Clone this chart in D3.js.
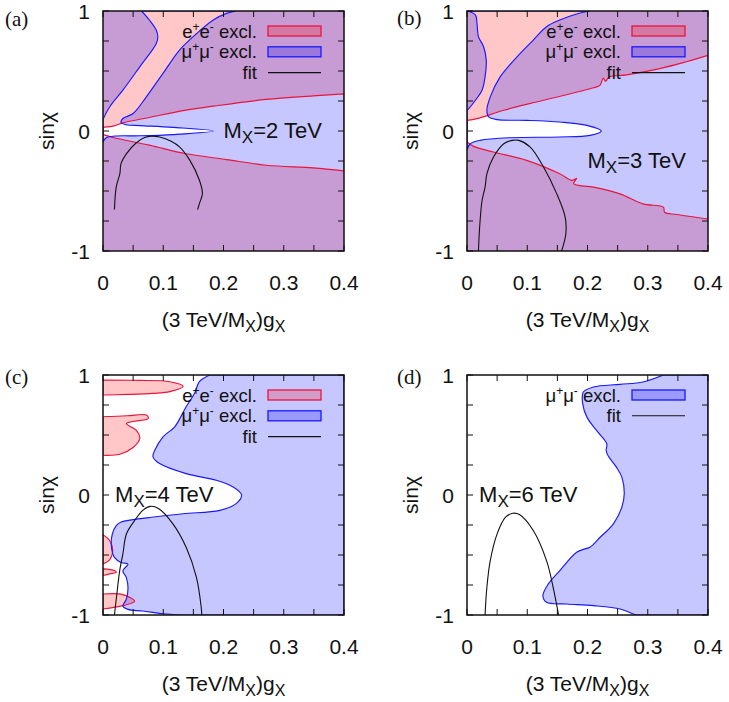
<!DOCTYPE html>
<html>
<head>
<meta charset="utf-8">
<script src="https://cdn.jsdelivr.net/npm/d3@7"></script>
<style>
  body { margin: 0; background: #fff; }
  text { font-family: "Liberation Sans", Arial, sans-serif; fill: #111; }
  .plabel { font-family: "Liberation Serif", "DejaVu Serif", serif; }
</style>
</head>
<body>
<svg width="729" height="702"></svg>
<script>
// axis setup
const xDomain = [0, 0.4];
const yDomain = [-1, 1];
const xTickLabels = [0, 0.1, 0.2, 0.3, 0.4];
const yTickLabels = [-1, 0, 1];
const xMinorStep = 0.05;
const yMinorStep = 0.25;

// (a) M_X = 2 TeV -- contour lines, [g, sin chi]
const aEeUpper = [[0, 0.03], [0.02, 0.045], [0.033, 0.068], [0.077, 0.113], [0.138, 0.174], [0.183, 0.207], [0.271, 0.263], [0.349, 0.293], [0.4, 0.31]];
const aEeLower = [[0, -0.03], [0.017, -0.054], [0.077, -0.118], [0.138, -0.19], [0.205, -0.238], [0.271, -0.285], [0.349, -0.307], [0.4, -0.332]];
const aMuLeft = [[0.064, 1], [0.077, 0.925], [0.0885, 0.84], [0.091, 0.786], [0.0885, 0.73], [0.061, 0.535], [0.033, 0.34], [0.011, 0.2], [0, 0.096]];
const aMuRight = [[0, -0.09], [0.006, -0.055], [0.02, -0.042], [0.061, -0.04], [0.116, -0.03], [0.183, 0], [0.116, 0.03], [0.061, 0.045], [0.039, 0.052], [0.03, 0.07], [0.033, 0.104], [0.05, 0.146], [0.072, 0.285], [0.0996, 0.48], [0.127, 0.674], [0.155, 0.81], [0.183, 0.925], [0.205, 0.98], [0.221, 1]];
const aFit = [[0.019, -0.655], [0.022, -0.466], [0.028, -0.355], [0.03, -0.27], [0.039, -0.188], [0.055, -0.1], [0.069, -0.055], [0.08, -0.043], [0.094, -0.05], [0.113, -0.085], [0.127, -0.132], [0.144, -0.243], [0.16, -0.41], [0.165, -0.52], [0.16, -0.605], [0.157, -0.655]];

// (b) M_X = 3 TeV
const bEeUpper = [[0, 0.089], [0.0166, 0.103], [0.061, 0.173], [0.127, 0.256], [0.21, 0.36], [0.221, 0.383], [0.226, 0.44], [0.23, 0.415], [0.236, 0.45], [0.265, 0.468], [0.32, 0.52], [0.364, 0.577], [0.4, 0.63]];
const bEeLower = [[0, -0.092], [0.011, -0.128], [0.044, -0.175], [0.099, -0.245], [0.154, -0.357], [0.174, -0.412], [0.182, -0.395], [0.177, -0.44], [0.21, -0.468], [0.254, -0.524], [0.292, -0.607], [0.326, -0.635], [0.328, -0.677], [0.348, -0.696], [0.4, -0.733]];
const bMuLeft = [[0.001, 1], [0.014, 0.967], [0.0166, 0.897], [0.019, 0.786], [0.0276, 0.702], [0.032, 0.59], [0.03, 0.451], [0.025, 0.34], [0.014, 0.256], [0.003, 0.187], [0, 0.173]];
const bMuRight = [[0, -0.156], [0.0055, -0.106], [0.022, -0.078], [0.072, -0.056], [0.154, -0.05], [0.204, -0.036], [0.223, 0], [0.199, 0.047], [0.154, 0.075], [0.099, 0.089], [0.05, 0.095], [0.036, 0.117], [0.033, 0.173], [0.0386, 0.284], [0.055, 0.451], [0.083, 0.618], [0.11, 0.758], [0.132, 0.869], [0.154, 0.925], [0.182, 0.975], [0.204, 1]];
const bFit = [[0.019, -1], [0.021, -0.8], [0.025, -0.579], [0.03, -0.468], [0.033, -0.357], [0.044, -0.217], [0.061, -0.106], [0.075, -0.078], [0.086, -0.078], [0.105, -0.134], [0.127, -0.3], [0.149, -0.524], [0.163, -0.719], [0.164, -0.858], [0.157, -1]];

// (c) M_X = 4 TeV
const cEe1 = [[0, 0.958], [0.06, 0.955], [0.111, 0.944], [0.133, 0.906], [0.111, 0.861], [0.083, 0.847], [0.04, 0.838], [0, 0.833]];
const cEe2 = [[0, 0.652], [0.04, 0.66], [0.072, 0.666], [0.075, 0.638], [0.039, 0.596], [0.055, 0.54], [0.061, 0.471], [0.05, 0.396], [0.028, 0.34], [0, 0.331]];
const cEe3 = [[0, -0.33], [0.011, -0.379], [0.016, -0.455], [0.011, -0.54], [0, -0.574]];
const cEe4 = [[0, -0.616], [0.019, -0.63], [0.022, -0.645], [0.011, -0.657], [0, -0.671]];
const cEe5 = [[0, -0.825], [0.033, -0.83], [0.0526, -0.886], [0.033, -0.922], [0, -0.95]];
const cMuEdge = [[0.177, 1], [0.16, 0.944], [0.152, 0.847], [0.138, 0.735], [0.119, 0.568], [0.0996, 0.485], [0.086, 0.373], [0.083, 0.318], [0.094, 0.262], [0.138, 0.178], [0.188, 0.123], [0.216, 0.067], [0.23, 0], [0.221, -0.072], [0.194, -0.128], [0.133, -0.156], [0.077, -0.188], [0.05, -0.205], [0.03, -0.225], [0.022, -0.255], [0.0155, -0.325], [0.0138, -0.423], [0.019, -0.52], [0.03, -0.562], [0.0415, -0.576], [0.033, -0.632], [0.0387, -0.688], [0.0415, -0.772], [0.0387, -0.869], [0.033, -0.925], [0.0415, -0.953], [0.066, -0.967], [0.0996, -0.99], [0.13, -1]];
const cFit = [[0.019, -1], [0.023, -0.825], [0.028, -0.62], [0.033, -0.49], [0.039, -0.323], [0.0526, -0.212], [0.066, -0.128], [0.078, -0.095], [0.092, -0.112], [0.116, -0.24], [0.138, -0.435], [0.155, -0.685], [0.163, -0.936], [0.164, -1]];

// (d) M_X = 6 TeV
const dMuEdge = [[0.326, 1], [0.292, 0.942], [0.254, 0.922], [0.21, 0.9], [0.193, 0.858], [0.192, 0.761], [0.199, 0.649], [0.215, 0.538], [0.232, 0.427], [0.231, 0.371], [0.234, 0.33], [0.248, 0.232], [0.257, 0.149], [0.261, 0.01], [0.257, -0.102], [0.243, -0.24], [0.221, -0.352], [0.204, -0.435], [0.196, -0.449], [0.182, -0.477], [0.154, -0.63], [0.135, -0.741], [0.126, -0.839], [0.132, -0.894], [0.166, -0.908], [0.21, -0.922], [0.254, -0.95], [0.276, -0.992], [0.281, -1]];
const dFit = [[0.03, -1], [0.033, -0.769], [0.0386, -0.547], [0.05, -0.324], [0.064, -0.185], [0.076, -0.152], [0.087, -0.163], [0.11, -0.296], [0.132, -0.547], [0.143, -0.769], [0.152, -1]];

const masses = ["2", "3", "4", "6"];
const massLabelAt = [[0.2, 0], [0.2, -0.25], [0.02, 0], [0.02, 0]];

const eeColor = { fill: "#ff0000", line: "#e8143c" };
const muColor = { fill: "#0000ff", line: "#1818ff" };
const fillAlpha = 0.22;

const rightEdge = [[xDomain[1], yDomain[0]], [xDomain[1], yDomain[1]]];

const panels = [
  { tag: "(a)", ox: 103, oy: 11, tagX: 5, tagY: 26,
    ee: { rings: [[aEeUpper, aEeLower.slice().reverse()]], outside: true },
    mu: { rings: [[aMuLeft, aMuRight]], outside: true }, fit: aFit },
  { tag: "(b)", ox: 467, oy: 11, tagX: 397, tagY: 25,
    ee: { rings: [[bEeUpper, bEeLower.slice().reverse()]], outside: true },
    mu: { rings: [[bMuLeft, bMuRight]], outside: true }, fit: bFit },
  { tag: "(c)", ox: 103, oy: 375, tagX: 5, tagY: 384,
    ee: { rings: [[cEe1], [cEe2], [cEe3], [cEe4], [cEe5]], outside: false },
    mu: { rings: [[cMuEdge, rightEdge]], outside: false }, fit: cFit },
  { tag: "(d)", ox: 467, oy: 375, tagX: 397, tagY: 384,
    ee: null,
    mu: { rings: [[dMuEdge, rightEdge]], outside: false }, fit: dFit }
];

const W = 241, H = 240;
const svg = d3.select("svg");
svg.append("rect").attr("width", 729).attr("height", 702).attr("fill", "#fff");

const x = d3.scaleLinear().domain(xDomain).range([0, W]);
const y = d3.scaleLinear().domain(yDomain).range([H, 0]);

const smooth = d3.line().x(d => x(d[0])).y(d => y(d[1])).curve(d3.curveCatmullRom.alpha(0.5));

function ringPath(segs) {
  return segs.map((s, i) => {
    const p = smooth(s);
    return i ? p.replace(/^M/, "L") : p;
  }).join("") + "Z";
}
const framePath = `M0,0H${W}V${H}H0Z`;

function fillRegion(g, region, col) {
  g.append("path")
    .attr("d", (region.outside ? framePath : "") + region.rings.map(ringPath).join(""))
    .attr("fill", col.fill)
    .attr("fill-opacity", fillAlpha)
    .attr("fill-rule", "evenodd");
}
function strokeRegion(g, region, col) {
  g.append("path")
    .attr("d", region.rings.map(ringPath).join(""))
    .attr("fill", "none")
    .attr("stroke", col.line)
    .attr("stroke-width", 1.15);
}

function subText(sel, parts, subSize) {
  let shift = 0;
  parts.forEach(([t, sub]) => {
    const want = sub ? 5 : 0;
    sel.append("tspan")
      .attr("dy", want - shift)
      .attr("font-size", sub ? subSize : null)
      .text(t);
    shift = want;
  });
}

panels.forEach((p, i) => {
  const g = svg.append("g").attr("transform", `translate(${p.ox},${p.oy})`);
  const clipId = "clip" + i;
  g.append("clipPath").attr("id", clipId).append("rect").attr("width", W).attr("height", H);

  const plot = g.append("g").attr("clip-path", `url(#${clipId})`);
  if (p.ee) fillRegion(plot, p.ee, eeColor);
  fillRegion(plot, p.mu, muColor);
  if (p.ee) strokeRegion(plot, p.ee, eeColor);
  strokeRegion(plot, p.mu, muColor);
  plot.append("path")
    .attr("d", smooth(p.fit))
    .attr("fill", "none")
    .attr("stroke", "#111")
    .attr("stroke-width", 1.1);

  // ticks on all four sides, pointing inward
  const xt = d3.range(xDomain[0], xDomain[1] + 1e-9, xMinorStep);
  const yt = d3.range(yDomain[0], yDomain[1] + 1e-9, yMinorStep);
  const tk = g.append("g").attr("stroke", "#111").attr("stroke-width", 1);
  xt.forEach(v => {
    tk.append("line").attr("x1", x(v)).attr("x2", x(v)).attr("y1", H).attr("y2", H - 6);
    tk.append("line").attr("x1", x(v)).attr("x2", x(v)).attr("y1", 0).attr("y2", 6);
  });
  yt.forEach(v => {
    tk.append("line").attr("x1", 0).attr("x2", 6).attr("y1", y(v)).attr("y2", y(v));
    tk.append("line").attr("x1", W).attr("x2", W - 6).attr("y1", y(v)).attr("y2", y(v));
  });
  g.append("rect").attr("width", W).attr("height", H)
    .attr("fill", "none").attr("stroke", "#111").attr("stroke-width", 1.5);

  // tick labels
  g.selectAll(".xl").data(xTickLabels).enter().append("text")
    .attr("x", d => x(d)).attr("y", H + 39)
    .attr("text-anchor", "middle").attr("font-size", 21)
    .text(d => d);
  g.selectAll(".yl").data(yTickLabels).enter().append("text")
    .attr("x", -13).attr("y", d => y(d)).attr("dy", "0.36em")
    .attr("text-anchor", "end").attr("font-size", 21)
    .text(d => d);

  // axis titles
  const xt2 = g.append("text").attr("x", W / 2).attr("y", H + 76)
    .attr("text-anchor", "middle").attr("font-size", 21);
  subText(xt2, [["(3 TeV/M", false], ["X", true], [")g", false], ["X", true]], 16);
  g.append("text")
    .attr("transform", `translate(-49,${H / 2}) rotate(-90)`)
    .attr("text-anchor", "middle").attr("font-size", 21)
    .text("sinχ");

  // mass label
  const ml = g.append("text")
    .attr("x", x(massLabelAt[i][0])).attr("y", y(massLabelAt[i][1]) + 7)
    .attr("font-size", 22);
  subText(ml, [["M", false], ["X", true], ["=" + masses[i] + " TeV", false]], 17);

  // legend
  const entries = [];
  if (p.ee) entries.push({ kind: "area", col: eeColor, parts: [["e", 0], ["+", 1], ["e", 0], ["-", 1], [" excl.", 0]] });
  entries.push({ kind: "area", col: muColor, parts: [["μ", 0], ["+", 1], ["μ", 0], ["-", 1], [" excl.", 0]] });
  entries.push({ kind: "line", parts: [["fit", 0]] });
  entries.forEach((e, k) => {
    const ry = 20 + k * 20.8;
    const t = g.append("text").attr("x", W - 87).attr("y", ry + 6.5)
      .attr("text-anchor", "end").attr("font-size", 18.5);
    let shift = 0;
    e.parts.forEach(([s, sup]) => {
      const want = sup ? -7 : 0;
      t.append("tspan").attr("dy", want - shift).attr("font-size", sup ? 12 : null).text(s);
      shift = want;
    });
    if (e.kind === "area") {
      g.append("rect").attr("x", W - 76).attr("y", ry - 5).attr("width", 53).attr("height", 10)
        .attr("fill", e.col.fill).attr("fill-opacity", fillAlpha)
        .attr("stroke", e.col.line).attr("stroke-width", 1.3);
    } else {
      g.append("line").attr("x1", W - 76).attr("x2", W - 23).attr("y1", ry).attr("y2", ry)
        .attr("stroke", "#111").attr("stroke-width", 1.1);
    }
  });

  svg.append("text").attr("class", "plabel")
    .attr("x", p.tagX).attr("y", p.tagY).attr("font-size", 21)
    .text(p.tag);
});
</script>
</body>
</html>
